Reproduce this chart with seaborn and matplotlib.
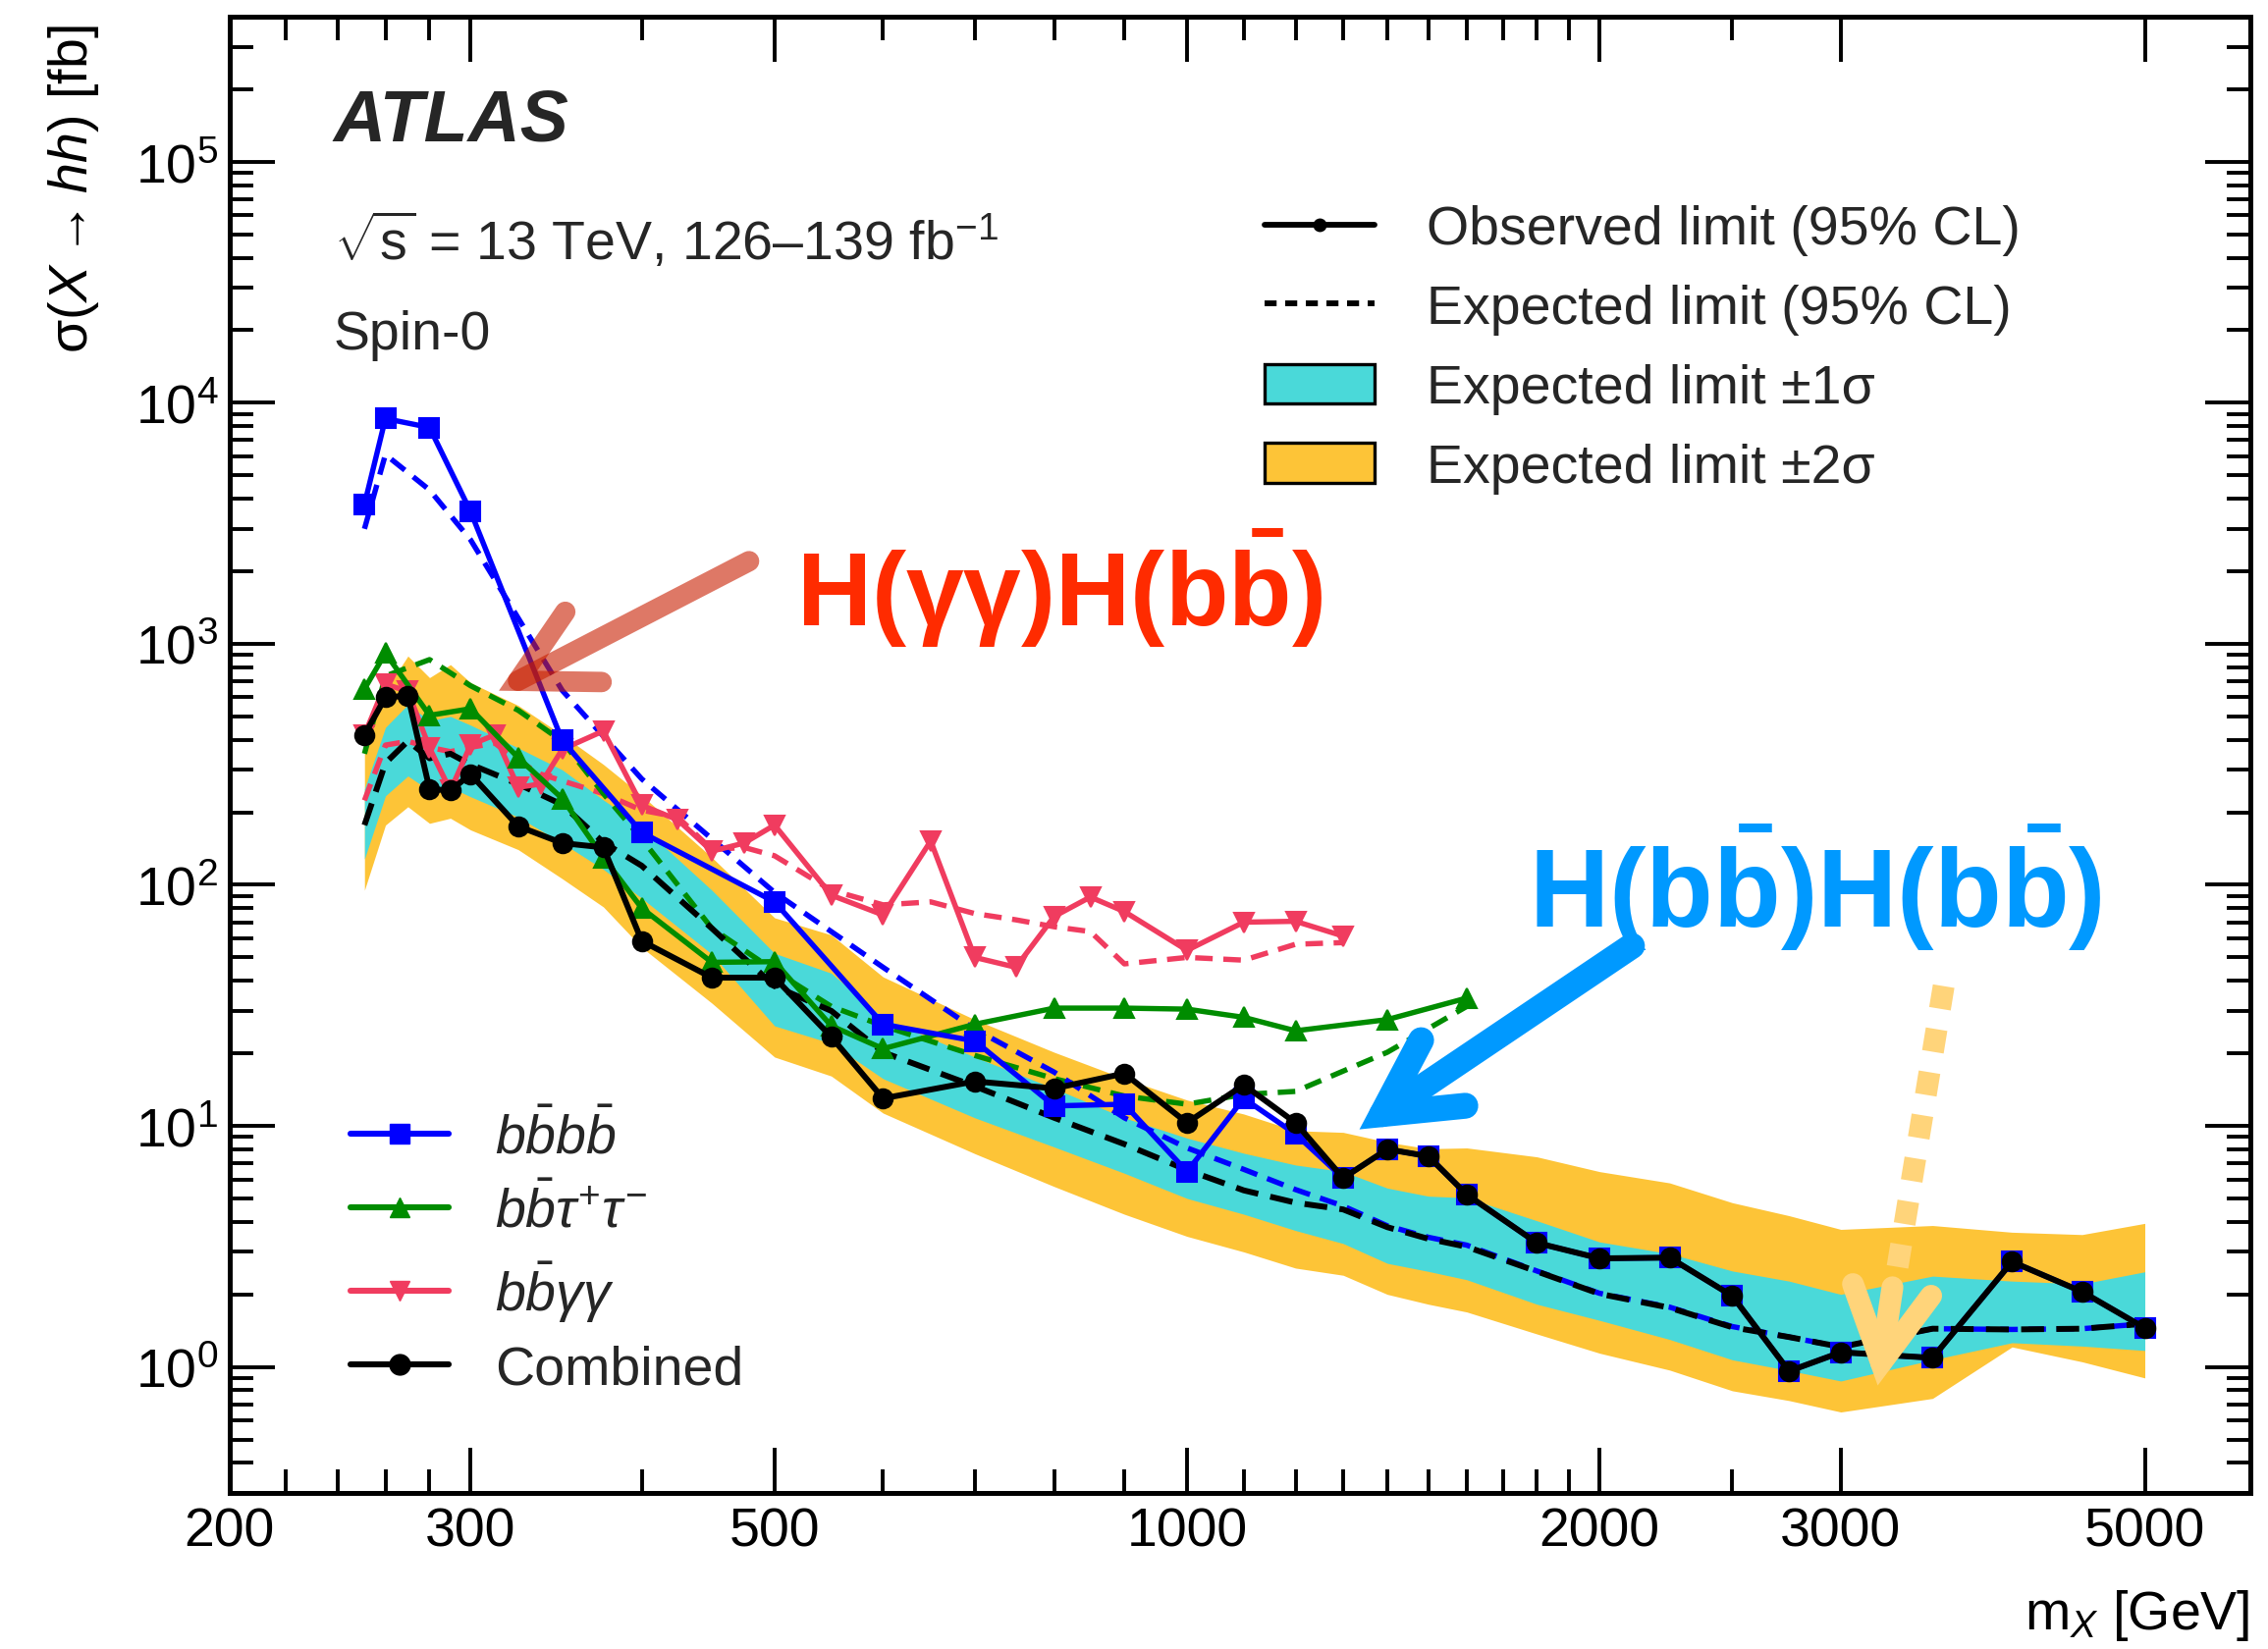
import numpy as np
import matplotlib
matplotlib.use("Agg")
import matplotlib.pyplot as plt
import seaborn as sns
from matplotlib.lines import Line2D
from matplotlib.patches import Patch
from matplotlib.ticker import (FixedLocator, FuncFormatter, NullFormatter,
                               LogLocator, LogFormatterSciNotation)

# ---------------------------------------------------------------- data
# Combined limit and its expected bands [fb] vs resonance mass [GeV]
mass_comb = [251, 260, 270, 280, 290, 300, 325, 350, 375, 400, 450, 500, 550,
             600, 700, 800, 900, 1000, 1100, 1200, 1300, 1400, 1500, 1600,
             1800, 2000, 2250, 2500, 2750, 3000, 3500, 4000, 4500, 5000]
comb_obs = [419, 600, 609, 250, 246, 288, 175, 149, 143, 58.5, 41.2, 41.2,
            23.4, 13.0, 15.3, 14.3, 16.5, 10.3, 14.8, 10.3, 6.07, 8.0, 7.48,
            5.19, 3.27, 2.82, 2.84, 1.97, 0.96, 1.15, 1.09, 2.73, 2.05, 1.45]
comb_exp = [177, 320, 395, 335, 350, 316, 262, 215, 150, 120, 66, 38, 30,
            20.2, 14.6, 10.8, 8.4, 6.56, 5.4, 4.8, 4.5, 3.8, 3.4, 3.15, 2.49,
            2.01, 1.76, 1.46, 1.33, 1.21, 1.44, 1.43, 1.44, 1.51]
comb_minus1 = [128, 234, 283, 246, 254, 232, 191, 149, 116, 88, 51.6, 26, 22,
               15.7, 10.8, 8.17, 6.36, 5.0, 4.3, 3.68, 3.25, 2.69, 2.49, 2.3,
               1.82, 1.56, 1.3, 1.07, 0.966, 0.874, 1.07, 1.26, 1.22, 1.17]
comb_plus1 = [250, 450, 560, 480, 500, 460, 370, 300, 225, 175, 95, 52, 43,
              28, 19.3, 14.3, 10.8, 8.9, 7.7, 6.88, 6.46, 5.52, 5.11, 5.03,
              4.04, 3.3, 2.95, 2.5, 2.27, 2.0, 2.38, 2.27, 2.21, 2.48]
comb_minus2 = [95, 177, 211, 180, 189, 169, 140, 106, 81, 55, 32.3, 19.3,
               16.1, 11.3, 7.67, 5.6, 4.3, 3.48, 3.0, 2.57, 2.4, 2.0, 1.82,
               1.69, 1.37, 1.14, 0.97, 0.796, 0.725, 0.65, 0.74, 1.21, 1.05,
               0.90]
comb_plus2 = [360, 640, 890, 724, 820, 690, 555, 419, 316, 235, 130, 73, 62,
              41.5, 27.6, 20.2, 15.7, 12.8, 11.2, 9.55, 9.4, 8.56, 8.04, 8.1,
              7.44, 6.46, 5.8, 4.8, 4.24, 3.72, 3.86, 3.62, 3.54, 3.94]

# bbbb channel
mass_4b = [251, 260, 280, 300, 350, 400, 500, 600, 700, 800, 900, 1000, 1100,
           1200, 1300, 1400, 1500, 1600, 1800, 2000, 2250, 2500, 2750, 3000,
           3500, 4000, 4500, 5000]
obs_4b = [3790, 8600, 7900, 3540, 397, 165, 85, 26.4, 22.5, 12.1, 12.3, 6.46,
          13.0, 9.25, 6.07, 8.0, 7.48, 5.19, 3.27, 2.82, 2.84, 1.97, 0.96,
          1.15, 1.09, 2.73, 2.05, 1.45]
exp_4b = [3000, 6100, 4350, 2700, 640, 275, 93, 45.5, 25.2, 16.7, 10.8, 8.1,
          6.6, 5.44, 4.65, 3.85, 3.45, 3.2, 2.5, 2.02, 1.77, 1.47, 1.33, 1.21,
          1.44, 1.43, 1.44, 1.51]

# bbtautau channel
mass_bbtt = [251, 260, 280, 300, 325, 350, 375, 400, 450, 500, 550, 600, 700,
             800, 900, 1000, 1100, 1200, 1400, 1600]
obs_bbtt = [650, 915, 505, 538, 337, 228, 130, 80, 47.7, 48, 26, 20.9, 26.4,
            30.8, 30.8, 30.5, 28.2, 24.8, 27.6, 33.9]
exp_bbtt = [350, 735, 860, 670, 530, 394, 239, 155, 66, 44, 31.3, 26, 19.6,
            15.7, 13.3, 12.3, 13.5, 13.9, 20.2, 31.3]

# bbyy channel
mass_bbyy = [251, 260, 270, 280, 290, 300, 312.5, 325, 337.5, 350, 375, 400,
             425, 450, 475, 500, 550, 600, 650, 700, 750, 800, 850, 900, 1000,
             1100, 1200, 1300]
obs_bbyy = [419, 680, 635, 370, 246, 381, 419, 254, 262, 365, 435, 214, 186,
            138, 149, 177, 90.6, 75, 152, 50, 45.5, 74, 89, 77.5, 53.5, 70,
            70.6, 61.3]
exp_bbyy = [224, 380, 394, 372, 357, 372, 387, 326, 288, 270, 239, 204, 191,
            140, 143, 132, 95, 82.6, 85, 76, 71.6, 67, 64, 47, 50, 48.7, 56.7,
            57.6]

# axis ticks
x_major_ticks = [200, 300, 500, 1000, 2000, 3000, 5000]
x_minor_ticks = [220, 240, 260, 280, 400, 600, 700, 800, 900, 1100, 1200,
                 1300, 1400, 1500, 1600, 1700, 1800, 1900, 2500]
y_major_ticks = [1, 10, 100, 1000, 1e4, 1e5]

# ---------------------------------------------------------------- style
sns.set_theme(style="ticks")
FAMILY = ["Liberation Sans", "DejaVu Sans"]
plt.rcParams.update({
    "font.family": FAMILY,
    "mathtext.fontset": "custom",
    "mathtext.rm": "Liberation Sans",
    "mathtext.it": "Liberation Sans:italic",
    "mathtext.bf": "Liberation Sans:bold",
    "mathtext.sf": "Liberation Sans",
    "axes.linewidth": 3.6,
    "axes.edgecolor": "black",
    "axes.facecolor": "white",
    "figure.facecolor": "white",
})

C_BLUE = "#0000FF"
C_GREEN = "#008C00"
C_PINK = "#F03C5F"
C_CYAN = "#4AD9D9"
C_YELLOW = "#FDC437"
FS = 40

fig = plt.figure(figsize=(23.1, 16.81), dpi=100)
ax = fig.add_axes([0.1011, 0.0946, 0.8911, 0.8947])
ax.set_xscale("log")
ax.set_yscale("log")

# expected bands
ax.fill_between(mass_comb, comb_minus2, comb_plus2, color=C_YELLOW, lw=0,
                zorder=1)
ax.fill_between(mass_comb, comb_minus1, comb_plus1, color=C_CYAN, lw=0,
                zorder=1.5)

DASH_C = (0, (3.3, 2.0))
DASH_K = (0, (3.9, 2.1))
LW_C = 3.9
LW_K = 4.3
MS = 15

def draw(x, y, color, lw, ls, marker=None, ms=0, z=3):
    sns.lineplot(x=x, y=y, ax=ax, color=color, linewidth=lw, linestyle=ls,
                 marker=marker, markersize=ms, markeredgecolor=color,
                 markeredgewidth=1.5, estimator=None, sort=False,
                 legend=False, zorder=z)

# expected lines
draw(mass_bbyy, exp_bbyy, C_PINK, LW_C, DASH_C, z=2.2)
draw(mass_bbtt, exp_bbtt, C_GREEN, LW_C, DASH_C, z=2.3)
draw(mass_4b, exp_4b, C_BLUE, LW_C, DASH_C, z=2.4)
draw(mass_comb, comb_exp, "black", LW_K, DASH_K, z=2.5)

# observed lines
draw(mass_bbyy, obs_bbyy, C_PINK, LW_C, "-", "v", MS, z=3.1)
draw(mass_bbtt, obs_bbtt, C_GREEN, LW_C, "-", "^", MS, z=3.2)
draw(mass_4b, obs_4b, C_BLUE, LW_C, "-", "s", MS - 1, z=3.3)
draw(mass_comb, comb_obs, "black", LW_K, "-", "o", MS - 1, z=3.5)

# axes ranges and ticks
ax.set_xlim(200, 5970)
ax.set_ylim(0.3, 4.0e5)
ax.xaxis.set_major_locator(FixedLocator(x_major_ticks))
ax.xaxis.set_major_formatter(FuncFormatter(lambda v, p: f"{v:.0f}"))
ax.xaxis.set_minor_locator(FixedLocator(x_minor_ticks))
ax.xaxis.set_minor_formatter(NullFormatter())
ax.yaxis.set_major_locator(FixedLocator(y_major_ticks))
ax.yaxis.set_major_formatter(LogFormatterSciNotation())
ax.yaxis.set_minor_locator(LogLocator(base=10, subs=np.arange(2, 10),
                                      numticks=100))
ax.yaxis.set_minor_formatter(NullFormatter())
ax.tick_params(which="both", direction="in", top=True, right=True,
               color="black", labelsize=FS, labelcolor="black")
ax.tick_params(which="major", length=33, width=2.8)
ax.tick_params(which="minor", length=17, width=2.8)
ax.tick_params(axis="x", which="major", pad=10)
ax.tick_params(axis="y", which="major", pad=8)
for s in ax.spines.values():
    s.set_visible(True)
    s.set_linewidth(3.6)
    s.set_color("black")

ax.set_xlabel(r"m$_{X}$ [GeV]", fontsize=FS, loc="right", color="black")
ax.xaxis.set_label_coords(1.0, -0.0638)
ax.set_ylabel(r"$\mathrm{\sigma}(X \rightarrow hh)$ [fb]", fontsize=FS,
              loc="top", color="black")
ax.yaxis.set_label_coords(-0.0634, 0.995)

# labels in the top-left corner
ax.text(0.0517, 0.9162, "ATLAS", transform=ax.transAxes, fontsize=53,
        fontweight="bold", fontstyle="italic", va="baseline", ha="left")
ax.text(0.0517, 0.8358,
        r"$\sqrt{\mathrm{s}}$ = 13 TeV, 126–139 fb$^{-1}$",
        transform=ax.transAxes, fontsize=FS, va="baseline", ha="left")
ax.text(0.0517, 0.7753, "Spin-0", transform=ax.transAxes, fontsize=FS,
        va="baseline", ha="left")

# legends
h_limits = [
    Line2D([], [], color="black", lw=4.2, marker="o", ms=9),
    Line2D([], [], color="black", lw=4.2, linestyle=(0, (2.1, 1.5))),
    Patch(facecolor=C_CYAN, edgecolor="black", linewidth=2.4),
    Patch(facecolor=C_YELLOW, edgecolor="black", linewidth=2.4),
]
l_limits = ["Observed limit (95% CL)", "Expected limit (95% CL)",
            "Expected limit ±1σ", "Expected limit ±2σ"]
leg1 = ax.legend(h_limits, l_limits, loc="upper left",
                 bbox_to_anchor=(0.5123, 0.8727), frameon=False, fontsize=FS,
                 handlelength=2.02, handleheight=0.75, handletextpad=0.95,
                 labelspacing=0.52, borderpad=0, borderaxespad=0)
ax.add_artist(leg1)

h_chan = [
    Line2D([], [], color=C_BLUE, lw=4.4, marker="s", ms=MS),
    Line2D([], [], color=C_GREEN, lw=4.4, marker="^", ms=MS),
    Line2D([], [], color=C_PINK, lw=4.4, marker="v", ms=MS),
    Line2D([], [], color="black", lw=4.4, marker="o", ms=MS),
]
l_chan = [r"$b\bar{b}b\bar{b}$", r"$b\bar{b}\tau^{+}\tau^{-}$",
          r"$b\bar{b}\gamma\gamma$", "Combined"]
ax.legend(h_chan, l_chan, loc="upper left", bbox_to_anchor=(0.06, 0.2587),
          frameon=False, fontsize=FS, handlelength=1.8, handletextpad=0.85,
          labelspacing=0.37, borderpad=0, borderaxespad=0)

# channel annotations
ax.text(0.2805, 0.5878, r"$\mathbf{H(\gamma\gamma)H(b\bar{b})}$",
        transform=ax.transAxes, fontsize=76, color="#FF2B00",
        va="baseline", ha="left", zorder=8)
ax.text(0.643, 0.3836, r"$\mathbf{H(b\bar{b})H(b\bar{b})}$",
        transform=ax.transAxes, fontsize=81, color="#0099FF",
        va="baseline", ha="left", zorder=8)

HEAD = "->,head_length=0.54,head_width=0.29"
ax.annotate("", xy=(314.6, 639), xytext=(479, 2202), xycoords="data",
            arrowprops=dict(arrowstyle=HEAD, lw=15, color="#C81E00",
                            alpha=0.6, shrinkA=0, shrinkB=0,
                            mutation_scale=100, joinstyle="miter"),
            zorder=6)
ax.annotate("", xy=(1336, 9.67), xytext=(2112, 55.8), xycoords="data",
            arrowprops=dict(arrowstyle=HEAD, lw=19, color="#0099FF",
                            shrinkA=0, shrinkB=0, mutation_scale=100,
                            joinstyle="miter"),
            zorder=6)
ax.plot([3566, 3300], [38.0, 2.60], color="#FFD47A", lw=16,
        linestyle=(0, (1.05, 0.95)), dash_capstyle="butt", zorder=6)
ax.annotate("", xy=(3192, 0.837), xytext=(3272, 2.14), xycoords="data",
            arrowprops=dict(arrowstyle=HEAD, lw=16, color="#FFD47A",
                            shrinkA=0, shrinkB=0, mutation_scale=100,
                            joinstyle="miter"),
            zorder=6)

fig.savefig("out.png", dpi=100)
